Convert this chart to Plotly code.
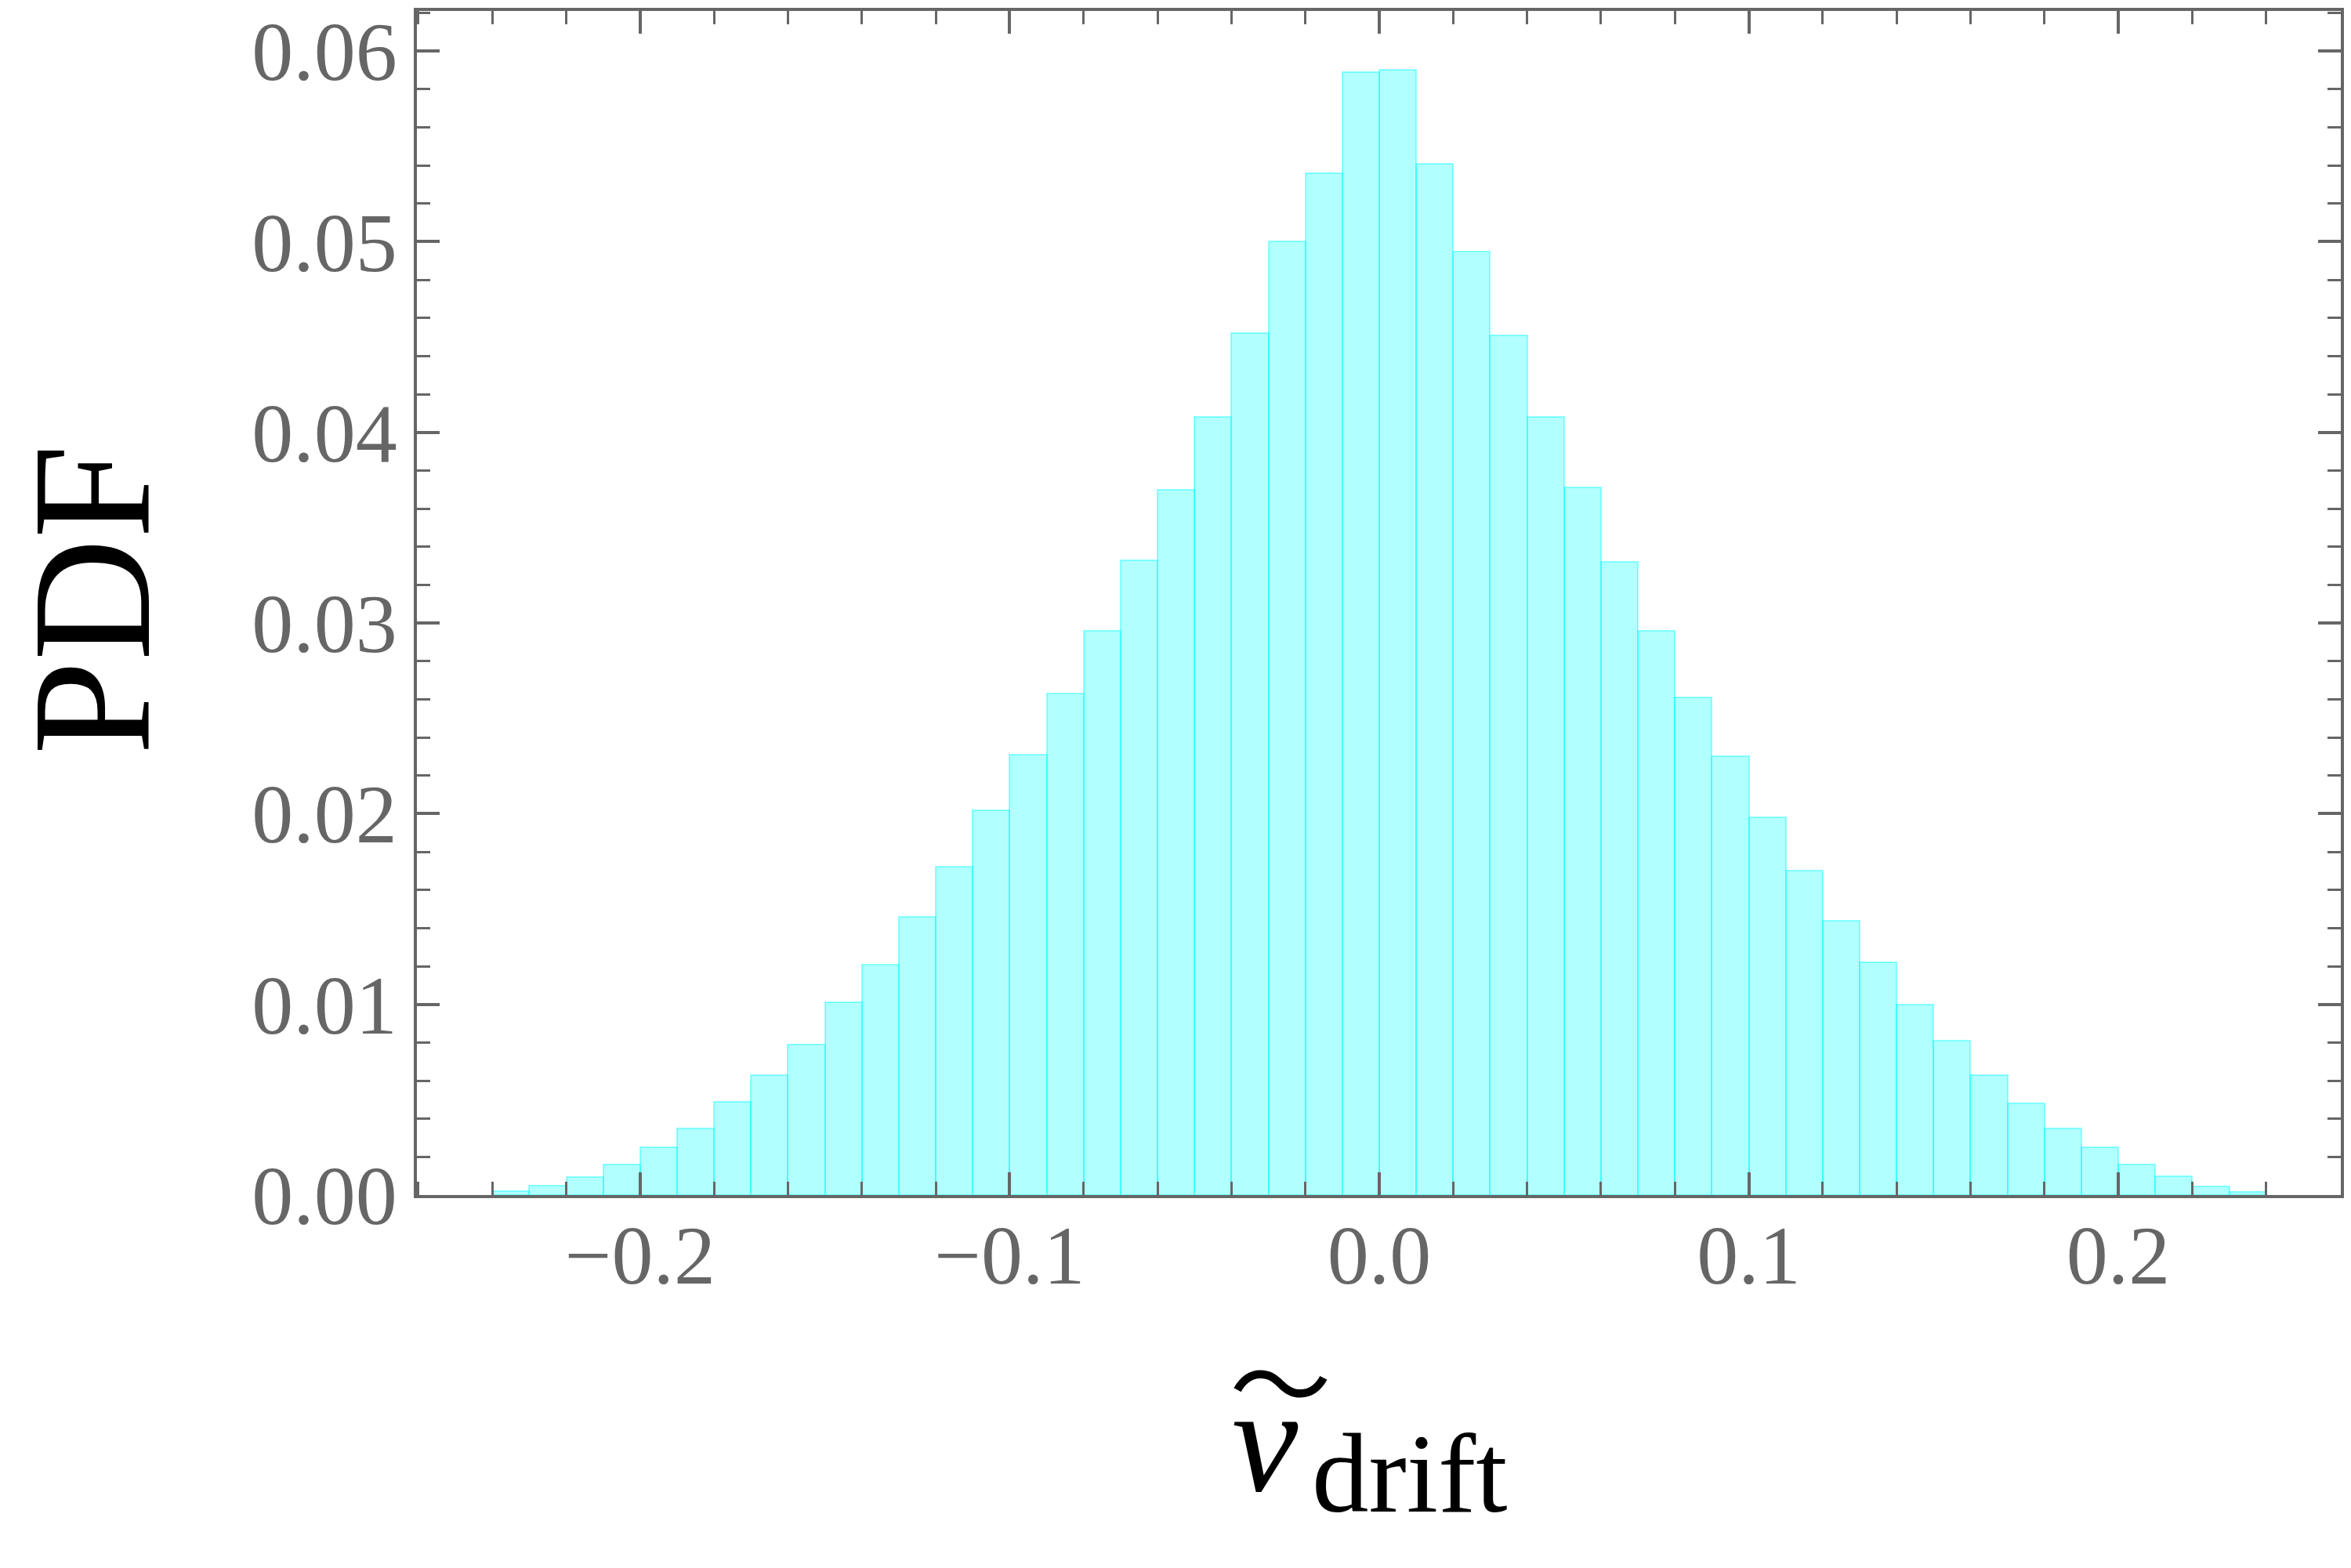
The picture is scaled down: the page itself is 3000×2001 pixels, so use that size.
import plotly.graph_objects as go

# histogram of the normalised drift velocity, bins of width 0.01
bin_left = [
    -0.24, -0.23, -0.22, -0.21, -0.20, -0.19, -0.18, -0.17, -0.16, -0.15, -0.14, -0.13,
    -0.12, -0.11, -0.10, -0.09, -0.08, -0.07, -0.06, -0.05, -0.04, -0.03, -0.02, -0.01,
    0.00, 0.01, 0.02, 0.03, 0.04, 0.05, 0.06, 0.07, 0.08, 0.09, 0.10, 0.11,
    0.12, 0.13, 0.14, 0.15, 0.16, 0.17, 0.18, 0.19, 0.20, 0.21, 0.22, 0.23,
]
pdf = [
    0.0002, 0.0005, 0.00095, 0.0016, 0.0025, 0.0035, 0.0049, 0.0063, 0.0079, 0.0101, 0.0121, 0.0146,
    0.0172, 0.0202, 0.0231, 0.0263, 0.0296, 0.0333, 0.0370, 0.0408, 0.0452, 0.0500, 0.0536, 0.0589,
    0.0590, 0.0541, 0.0495, 0.0451, 0.0408, 0.0371, 0.0332, 0.0296, 0.0261, 0.0230, 0.0198, 0.0170,
    0.0144, 0.0122, 0.0100, 0.0081, 0.0063, 0.0048, 0.0035, 0.0025, 0.0016, 0.0010, 0.00044, 0.00015,
]
bin_width = 0.01

y_title = "PDF"
x_symbol = "<i>v</i>"
x_subscript = "drift"
x_accent = "\u301c"

GREY = "#666666"
SERIF = "Liberation Serif, Times New Roman, serif"

fig = go.Figure(
    go.Bar(
        x=bin_left,
        y=pdf,
        width=bin_width,
        offset=0,
        marker=dict(
            color="rgba(0,255,255,0.3)",
            line=dict(color="rgba(0,255,255,0.4)", width=2),
        ),
    )
)

axis_common = dict(
    showgrid=False,
    zeroline=False,
    showline=True,
    linewidth=4,
    linecolor=GREY,
    mirror="allticks",
    ticks="inside",
    ticklen=29,
    tickwidth=3.5,
    tickcolor=GREY,
    ticklabeloverflow="allow",
    tickfont=dict(family=SERIF, size=106, color=GREY),
)

fig.update_xaxes(
    range=[-0.2604, 0.2602],
    tick0=0,
    dtick=0.1,
    tickformat=".1f",
    minor=dict(tick0=0, dtick=0.02, ticks="inside", ticklen=17, tickwidth=3, tickcolor=GREY),
    ticklabelstandoff=-18,
    **axis_common,
)
fig.update_yaxes(
    range=[0, 0.0621],
    tick0=0,
    dtick=0.01,
    tickformat=".2f",
    minor=dict(tick0=0, dtick=0.002, ticks="inside", ticklen=17, tickwidth=3, tickcolor=GREY),
    ticklabelstandoff=0,
    **axis_common,
)

# the page body adds an 8 px margin, so the figure is 8 px smaller than the window
fig.update_layout(
    width=2992,
    height=1993,
    margin=dict(l=524, r=13, t=0, b=476),
    plot_bgcolor="white",
    paper_bgcolor="white",
    showlegend=False,
    bargap=0,
    annotations=[
        dict(
            text=y_title, xref="paper", yref="paper", x=-0.1685, y=0.503,
            textangle=-90, showarrow=False, xanchor="center", yanchor="middle",
            font=dict(family=SERIF, size=216, color="black"),
        ),
        dict(
            text=x_symbol, xref="paper", yref="paper", x=0.4408, y=-0.207,
            showarrow=False, xanchor="center", yanchor="middle",
            font=dict(family=SERIF, size=190, color="black"),
        ),
        dict(
            text=x_subscript, xref="paper", yref="paper", x=0.5162, y=-0.2347,
            showarrow=False, xanchor="center", yanchor="middle",
            font=dict(family=SERIF, size=145, color="black"),
        ),
        dict(
            text=x_accent, xref="paper", yref="paper", x=0.4488, y=-0.154,
            showarrow=False, xanchor="center", yanchor="middle",
            font=dict(family="Noto Sans CJK JP", size=130, color="black"),
        ),
    ],
)

fig.write_html("out.html")
